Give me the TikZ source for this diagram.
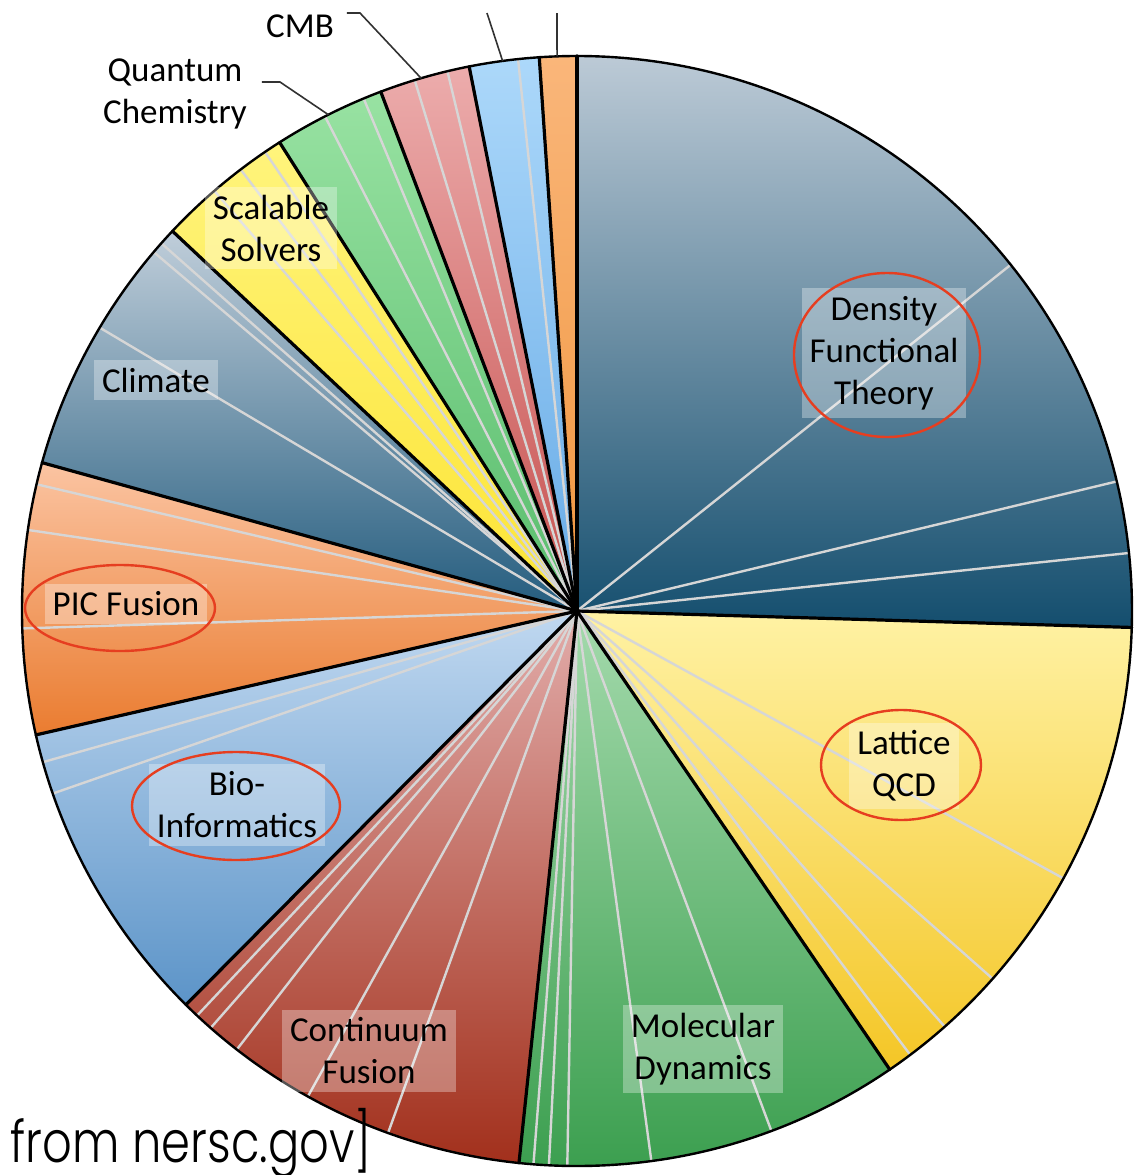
\documentclass[tikz,border=0pt]{standalone}
\usepackage{fontspec}
\setmainfont{Carlito}
\newfontfamily\srcfont{Poppins}[UprightFont={* Light}]
\usetikzlibrary{shadings}

\tikzset{every picture/.style={line width=0.75pt}}

\begin{document}
\begin{tikzpicture}[x=0.5pt, y=0.5pt,
        subline/.style={color={rgb,255:red,214;green,214;blue,214}, line width=1.2pt},
        border/.style={line width=1.6pt, line cap=round},
        tag/.style={fill=white, fill opacity=0.32, text opacity=1, align=center, inner sep=4pt, font=\fontsize{17.5pt}{21pt}\selectfont},
        outside/.style={align=center, inner sep=0pt, font=\fontsize{17.5pt}{21pt}\selectfont},
        ring/.style={color={rgb,255:red,230;green,62;blue,32}, line width=1.2pt},
        leader/.style={color={rgb,255:red,50;green,50;blue,50}, line width=0.8pt}]
        \useasboundingbox (-577,611) rectangle (562,-564);
        \coordinate (c) at (0,0);
        % slices, each shaded from top to bottom
        \path[top color={rgb,255:red,192;green,216;blue,240}, bottom color={rgb,255:red,92;green,148;blue,200}] (c) -- (-167.1:555) arc[start angle=-167.1, end angle=-134.8, radius=555] -- cycle;
        \path[top color={rgb,255:red,226;green,172;blue,170}, bottom color={rgb,255:red,162;green,48;blue,28}] (c) -- (-134.8:555) arc[start angle=-134.8, end angle=-96, radius=555] -- cycle;
        \path[top color={rgb,255:red,164;green,218;blue,172}, bottom color={rgb,255:red,58;green,158;blue,78}] (c) -- (-96:555) arc[start angle=-96, end angle=-55.7, radius=555] -- cycle;
        \path[top color={rgb,255:red,255;green,242;blue,164}, bottom color={rgb,255:red,244;green,198;blue,38}] (c) -- (-55.7:555) arc[start angle=-55.7, end angle=-1.7, radius=555] -- cycle;
        \path[top color={rgb,255:red,188;green,202;blue,214}, bottom color={rgb,255:red,20;green,78;blue,110}] (c) -- (-1.7:555) arc[start angle=-1.7, end angle=90, radius=555] -- cycle;
        \path[top color={rgb,255:red,250;green,182;blue,122}, bottom color={rgb,255:red,240;green,150;blue,62}] (c) -- (90:555) arc[start angle=90, end angle=93.9, radius=555] -- cycle;
        \path[top color={rgb,255:red,172;green,216;blue,250}, bottom color={rgb,255:red,102;green,170;blue,230}] (c) -- (93.9:555) arc[start angle=93.9, end angle=101.2, radius=555] -- cycle;
        \path[top color={rgb,255:red,236;green,172;blue,172}, bottom color={rgb,255:red,198;green,80;blue,78}] (c) -- (101.2:555) arc[start angle=101.2, end angle=110.7, radius=555] -- cycle;
        \path[top color={rgb,255:red,152;green,226;blue,162}, bottom color={rgb,255:red,88;green,188;blue,108}] (c) -- (110.7:555) arc[start angle=110.7, end angle=122.4, radius=555] -- cycle;
        \path[top color={rgb,255:red,255;green,244;blue,124}, bottom color={rgb,255:red,252;green,228;blue,52}] (c) -- (122.4:555) arc[start angle=122.4, end angle=136.8, radius=555] -- cycle;
        \path[top color={rgb,255:red,192;green,206;blue,218}, bottom color={rgb,255:red,36;green,92;blue,126}] (c) -- (136.8:555) arc[start angle=136.8, end angle=164.5, radius=555] -- cycle;
        \path[top color={rgb,255:red,251;green,196;blue,162}, bottom color={rgb,255:red,234;green,124;blue,48}] (c) -- (164.5:555) arc[start angle=164.5, end angle=192.9, radius=555] -- cycle;
        % thin lines inside the slices
        \foreach \a in {38.6,13.5,6,-28.8,-41.5,-48.5,-53.1,-69.5,-82.3,-91,-92.9,-94.5,-109.9,-119,-127.8,-131.3,-133.2,-160.8,-164.2,166.8,171.6,181.8,138.5,139.7,149.3,124.2,127.3,130.8,112.6,117,103.5,107,96.1}
            \draw[subline] (c) -- (\a:555);
        % slice borders
        \foreach \a in {-167.1,-134.8,-96,-55.7,-1.7,90,93.9,101.2,110.7,122.4,136.8,164.5}
            \draw[border] (c) -- (\a:555);
        \draw[line width=1.2pt] (c) circle[radius=555];
        % labels on the slices
        \node[tag] (dft) at (307,258) {Density\\Functional\\Theory};
        \node[tag] (lqcd) at (327,-155) {Lattice\\QCD};
        \node[tag] (md) at (126,-438) {Molecular\\Dynamics};
        \node[tag] (cf) at (-208,-440) {Continuum\\Fusion};
        \node[tag] (bio) at (-340,-194) {Bio-\\Informatics};
        \node[tag] (pic) at (-451,7) {PIC Fusion};
        \node[tag] (climate) at (-421,231) {Climate};
        \node[tag] (solvers) at (-306,383) {Scalable\\Solvers};
        % red rings
        \draw[ring] (310,256) ellipse[x radius=93, y radius=82];
        \draw[ring] (324,-154) ellipse[x radius=80, y radius=55];
        \draw[ring] (-341,-195) ellipse[x radius=104, y radius=54];
        \draw[ring] (-457,3) ellipse[x radius=95, y radius=43];
        % labels outside, with leaders
        \node[outside] (cmb) at (-277,585) {CMB};
        \node[outside] (qchem) at (-402,517) {Quantum\\Chemistry};
        \coordinate (cmbend) at (-230,598);
        \coordinate (cmbfoot) at (106.3:555);
        \coordinate (qcend) at (-315,529);
        \coordinate (qcfoot) at (116.6:555);
        \coordinate (blueend) at (-90,598);
        \coordinate (bluefoot) at (97.7:555);
        \coordinate (orangeend) at (-20,598);
        \coordinate (orangefoot) at (92.06:555);
        \draw[leader] (cmbend) -- ++(13,0) -- (cmbfoot);
        \draw[leader] (qcend) -- ++(18,0) -- (qcfoot);
        \draw[leader] (blueend) -- (bluefoot);
        \draw[leader] (orangeend) -- (orangefoot);
        \node[anchor=base west, inner sep=0pt] (src) at (-567,-551) {\srcfont\fontsize{29pt}{35pt}\selectfont\scalebox{0.8}[1]{from nersc.gov]}};
    \end{tikzpicture}
\end{document}
